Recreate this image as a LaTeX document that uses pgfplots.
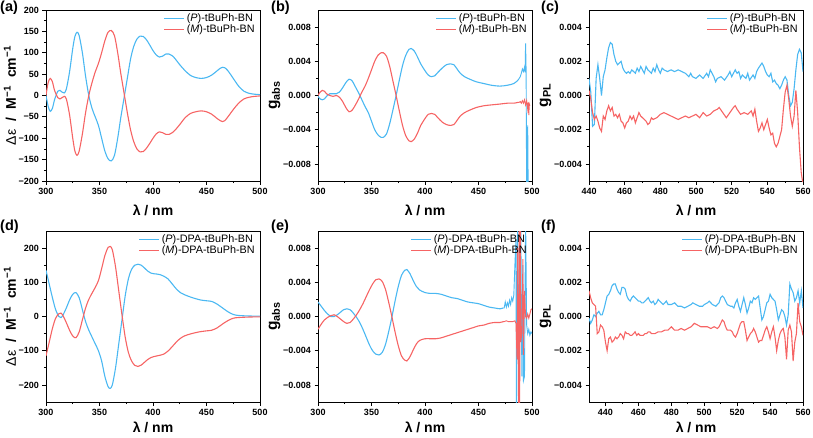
\documentclass[border=0pt]{standalone}
\usepackage{fontspec}
\setmainfont{Liberation Sans}
\usepackage{pgfplots}
\pgfplotsset{compat=1.18}
\definecolor{cblue}{RGB}{75,184,242}
\definecolor{cred}{RGB}{246,100,100}
\pgfplotsset{
  panel/.style={
    scale only axis, width=214pt, height=171pt,
    anchor=north west,
    tick align=outside, tick pos=left,
    major tick length=3.5pt, minor tick length=2pt,
    minor tick num=1,
    axis line style={line width=0.9pt},
    every tick/.style={black, line width=0.8pt},
    /pgf/number format/assume math mode=true,
    tick label style={font=\bfseries\fontsize{9}{10}\selectfont},
    label style={font=\bfseries\fontsize{14}{16}\selectfont},
    xlabel style={at={(axis description cs:0.5,-0.17)}, anchor=center},
    scaled ticks=false,
    xlabel={λ / nm},
    legend cell align=left,
    legend style={draw=none, fill=none, at={(0.99,0.995)}, anchor=north east,
      font=\fontsize{10.8}{12}\selectfont, row sep=-2.5pt, inner sep=1pt},
    legend image code/.code={\draw[#1, line width=1.1pt] (0pt,0pt) -- (20pt,0pt);},
    clip=true,
  },
  rowtwo/.style={xlabel style={at={(axis description cs:0.5,-0.148)}, anchor=center}},
  ylabA/.style={ylabel style={at={(axis description cs:-0.168,0.5)}, anchor=center}},
  ylabG/.style={ylabel style={at={(axis description cs:-0.203,0.5)}, anchor=center, font=\bfseries\fontsize{15.5}{16}\selectfont}},
  pb/.style={cblue, line width=1.1pt},
  pr/.style={cred, line width=1.1pt},
}
\newcommand{\plab}[1]{\bfseries\fontsize{14.5}{14.5}\selectfont #1}
\newcommand{\delab}{{\mdseries Δε}\hspace{0.3em} /\hspace{0.3em} M\textsuperscript{−1}\hspace{0.3em} cm\textsuperscript{−1}}
\begin{document}
\begin{tikzpicture}
\useasboundingbox (0pt,0pt) rectangle (813pt,-437pt);
\node[anchor=north west, inner sep=0pt] at (0pt,-1pt) {\plab{(a)}};
\node[anchor=north west, inner sep=0pt] at (271pt,-1pt) {\plab{(b)}};
\node[anchor=north west, inner sep=0pt] at (541pt,-1pt) {\plab{(c)}};
\node[anchor=north west, inner sep=0pt] at (0pt,-220pt) {\plab{(d)}};
\node[anchor=north west, inner sep=0pt] at (271pt,-220pt) {\plab{(e)}};
\node[anchor=north west, inner sep=0pt] at (541pt,-220pt) {\plab{(f)}};

% (a)
\begin{axis}[panel, ylabA, at={(46pt,-10pt)},
  xmin=300, xmax=500, xtick={300,350,...,500},
  ymin=-200, ymax=200, ytick={-200,-150,...,200},
  yticklabels={−200,−150,−100,−50,0,50,100,150,200},
  ylabel={\delab}]
\addplot[pb, smooth] coordinates {
(300,0)(302,-25)(304,-37)(306,-30)(308,-10)(311,10)(313,12)(315,8)(317,6)(319,15)
(322,55)(325,110)(327,138)(329,148)(331,140)(334,100)(337,45)(340,0)(343,-30)(346,-50)
(349,-70)(352,-100)(355,-130)(358,-148)(361,-153)(364,-140)(367,-100)(370,-50)(373,-5)
(376,40)(379,85)(382,115)(385,132)(388,139)(391,138)(394,130)(397,118)(400,105)(403,95)
(406,90)(409,92)(412,97)(415,97)(418,93)(421,85)(425,72)(430,58)(435,47)(440,42)(445,40)
(450,42)(455,48)(460,58)(463,64)(465,66)(467,65)(470,58)(475,40)(480,22)(485,10)(490,5)
(495,3)(500,2)};
\addlegendentry{(\textit{P})-tBuPh-BN}
\addplot[pr, smooth] coordinates {
(300,0)(302,30)(304,40)(306,32)(308,12)(311,-5)(313,-8)(315,-5)(317,-2)(319,-8)
(322,-45)(325,-100)(327,-130)(329,-140)(331,-130)(334,-90)(337,-40)(340,0)(343,30)(346,55)
(349,75)(352,100)(355,128)(358,148)(361,152)(364,140)(367,100)(370,50)(373,5)
(376,-40)(379,-80)(382,-108)(385,-125)(388,-132)(391,-131)(394,-123)(397,-112)(400,-100)
(403,-90)(406,-85)(409,-87)(412,-91)(415,-91)(418,-87)(421,-80)(425,-68)(430,-52)(435,-42)
(440,-38)(445,-36)(450,-38)(455,-44)(460,-54)(463,-59)(465,-61)(467,-59)(470,-50)(475,-33)
(480,-18)(485,-8)(490,-4)(495,-2)(500,-1)};
\addlegendentry{(\textit{M})-tBuPh-BN}
\end{axis}

% (b)
\begin{axis}[panel, ylabG, at={(318pt,-10pt)},
  xmin=300, xmax=500, xtick={300,350,...,500},
  ymin=-0.01, ymax=0.01, ytick={-0.008,-0.004,0,0.004,0.008},
  yticklabels={−0.008,−0.004,0.000,0.004,0.008},
  ylabel={g\textsubscript{abs}}]
\addplot[pb, smooth] coordinates {
(300,-0.0001)(302,-0.0004)(304,-0.0005)(306,-0.0004)(308,-0.0001)(311,0.0002)(314,0.0002)
(317,0.0002)(320,0.0004)(323,0.0009)(326,0.0015)(329,0.0019)(332,0.0017)(335,0.0010)
(338,0.0003)(341,-0.0005)(344,-0.0013)(347,-0.0020)(350,-0.0030)(353,-0.0040)(356,-0.0046)
(359,-0.0049)(361,-0.0049)(364,-0.0045)(367,-0.0033)(370,-0.0017)(373,0.0000)(376,0.0018)
(379,0.0035)(382,0.0047)(385,0.0054)(387,0.0055)(390,0.0052)(393,0.0045)(396,0.0037)
(400,0.0029)(403,0.0024)(406,0.0022)(409,0.0023)(412,0.0027)(416,0.0032)(420,0.0036)
(424,0.0037)(427,0.0036)(430,0.0031)(433,0.0026)(437,0.0022)(442,0.0019)(448,0.0016)
(455,0.0014)(462,0.0012)(470,0.0011)(477,0.0012)(483,0.0014)(487,0.0018)};
\addlegendentry{(\textit{P})-tBuPh-BN}
\addplot[pr, smooth] coordinates {
(300,0.0000)(302,0.0004)(304,0.0006)(306,0.0005)(308,0.0002)(311,0.0000)(314,-0.0001)
(317,0.0000)(320,-0.0002)(323,-0.0007)(326,-0.0014)(329,-0.0019)(332,-0.0017)(335,-0.0011)
(338,-0.0004)(341,0.0004)(344,0.0011)(347,0.0020)(350,0.0030)(353,0.0040)(356,0.0047)
(359,0.0050)(361,0.0050)(364,0.0046)(367,0.0034)(370,0.0017)(373,0.0000)(376,-0.0018)
(379,-0.0035)(382,-0.0047)(385,-0.0053)(387,-0.0054)(390,-0.0051)(393,-0.0044)(396,-0.0035)
(400,-0.0027)(403,-0.0022)(406,-0.0021)(409,-0.0022)(412,-0.0026)(416,-0.0031)(420,-0.0034)
(424,-0.0035)(427,-0.0034)(430,-0.0029)(433,-0.0024)(437,-0.0020)(442,-0.0017)(448,-0.0014)
(455,-0.0012)(462,-0.0011)(470,-0.0010)(477,-0.0009)(483,-0.0009)(487,-0.0008)};
\addlegendentry{(\textit{M})-tBuPh-BN}
\addplot[pb, forget plot, line width=0.9pt] coordinates {
(487,0.0018)(488,0.0020)(489,0.0022)(490,0.0026)(491,0.0031)(492,0.0028)(493,0.0033)
(493.5,0.0027)(494,0.0061)(494.5,0.0030)(495,-0.0120)(496,-0.0035)(496.5,-0.0120)(497,-0.0120)};
\addplot[pr, forget plot, line width=0.9pt] coordinates {
(487,-0.0008)(488,-0.0008)(489,-0.0007)(490,-0.0009)(491,-0.0006)(492,-0.0009)(493,-0.0005)
(494,-0.0011)(495,-0.0006)(496,-0.0016)(496.5,-0.0008)(497,-0.0023)(497.5,-0.0010)(498,-0.0012)};
\end{axis}

% (c)
\begin{axis}[panel, ylabG, at={(589pt,-10pt)},
  xmin=440, xmax=560, xtick={440,460,...,560},
  ymin=-0.005, ymax=0.005, ytick={-0.004,-0.002,0,0.002,0.004},
  yticklabels={−0.004,−0.002,0.000,0.002,0.004},
  ylabel={g\textsubscript{PL}}]
\addplot[pb] coordinates {
(440,0.0010)(441,0.0002)(442,-0.0018)(443,-0.0017)(444,0.0010)(445,0.0018)(446,0.0010)
(447,0.0000)(448,0.0011)(449,0.0015)(450,0.0022)(451,0.0028)(452,0.0031)(453,0.0030)
(454,0.0024)(455,0.0020)(456,0.0018)(457,0.0019)(458,0.0020)(459,0.0016)(460,0.0014)
(461,0.0013)(462,0.0014)(463,0.0013)(464,0.0015)(465,0.0014)(466,0.0013)(467,0.0016)
(468,0.0014)(469,0.0017)(470,0.0015)(471,0.0013)(472,0.0017)(473,0.0015)(474,0.0014)
(475,0.0013)(476,0.0016)(477,0.0014)(478,0.0018)(479,0.0015)(480,0.0013)(481,0.0016)
(482,0.0015)(484,0.0014)(486,0.0015)(488,0.0014)(490,0.0015)(492,0.0014)(494,0.0013)
(496,0.0011)(497,0.0013)(498,0.0011)(500,0.0010)(502,0.0012)(504,0.0010)(506,0.0013)
(507,0.0011)(508,0.0015)(510,0.0011)(511,0.0008)(512,0.0010)(514,0.0011)(516,0.0009)
(518,0.0012)(519,0.0014)(520,0.0011)(522,0.0015)(523,0.0013)(524,0.0014)(525,0.0010)
(526,0.0012)(528,0.0010)(529,0.0013)(530,0.0009)(532,0.0012)(533,0.0010)(534,0.0014)
(535,0.0016)(537,0.0019)(538,0.0017)(539,0.0014)(540,0.0012)(541,0.0011)(542,0.0013)
(543,0.0008)(544,0.0009)(545,0.0007)(546,0.0006)(547,0.0004)(548,0.0006)(549,0.0009)
(550,0.0011)(551,0.0009)(552,0.0000)(553,-0.0006)(554,-0.0004)(555,0.0004)(556,0.0015)
(557,0.0024)(558,0.0027)(559,0.0025)(560,0.0014)};
\addlegendentry{(\textit{P})-tBuPh-BN}
\addplot[pr] coordinates {
(440,0.0003)(441,-0.0002)(442,-0.0010)(443,-0.0014)(444,-0.0012)(445,-0.0015)(446,-0.0019)
(447,-0.0021)(448,-0.0012)(449,-0.0014)(450,-0.0009)(451,-0.0006)(452,-0.0009)(453,-0.0007)
(454,-0.0012)(455,-0.0011)(456,-0.0013)(457,-0.0011)(458,-0.0015)(459,-0.0016)(460,-0.0019)
(461,-0.0016)(462,-0.0015)(463,-0.0012)(464,-0.0014)(465,-0.0012)(466,-0.0016)(467,-0.0013)
(468,-0.0010)(469,-0.0012)(470,-0.0013)(472,-0.0015)(473,-0.0017)(474,-0.0016)(475,-0.0013)
(476,-0.0014)(478,-0.0013)(480,-0.0011)(482,-0.0010)(484,-0.0011)(486,-0.0012)(488,-0.0013)
(490,-0.0014)(492,-0.0013)(494,-0.0012)(496,-0.0013)(498,-0.0012)(500,-0.0011)(502,-0.0013)
(504,-0.0010)(506,-0.0012)(508,-0.0011)(510,-0.0009)(512,-0.0008)(513,-0.0007)(515,-0.0010)
(517,-0.0013)(519,-0.0010)(521,-0.0007)(522,-0.0006)(523,-0.0008)(525,-0.0011)(527,-0.0010)
(529,-0.0011)(531,-0.0009)(532,-0.0012)(533,-0.0008)(534,-0.0015)(535,-0.0021)(536,-0.0019)
(537,-0.0016)(538,-0.0020)(539,-0.0017)(540,-0.0014)(541,-0.0019)(542,-0.0023)(543,-0.0022)
(544,-0.0028)(545,-0.0030)(546,-0.0028)(547,-0.0024)(548,-0.0020)(549,-0.0008)(550,0.0002)
(551,0.0006)(552,-0.0002)(553,-0.0012)(554,-0.0018)(555,-0.0012)(556,0.0003)(557,-0.0010)
(558,-0.0030)(559,-0.0045)(560,-0.0052)};
\addlegendentry{(\textit{M})-tBuPh-BN}
\end{axis}

% (d)
\begin{axis}[panel, rowtwo, ylabA, at={(46pt,-231pt)},
  xmin=300, xmax=500, xtick={300,350,...,500},
  ymin=-250, ymax=250, ytick={-200,-100,0,100,200},
  yticklabels={−200,−100,0,100,200},
  ylabel={\delab}]
\addplot[pb, smooth] coordinates {
(300,135)(303,95)(306,55)(309,20)(312,0)(314,-3)(316,5)(319,25)(322,48)(325,65)(328,70)
(331,55)(334,20)(337,-15)(340,-40)(343,-60)(346,-80)(349,-100)(352,-130)(355,-175)(358,-205)
(360,-210)(362,-200)(365,-150)(368,-80)(371,-10)(374,60)(377,110)(380,138)(383,150)(386,153)
(389,150)(392,142)(395,133)(398,127)(401,125)(404,124)(407,122)(410,118)(414,110)(418,95)
(422,80)(426,69)(430,63)(435,57)(440,52)(445,48)(450,46)(455,44)(460,36)(465,25)(470,14)
(475,6)(480,3)(490,1.5)(500,1)};
\addlegendentry{(\textit{P})-DPA-tBuPh-BN}
\addplot[pr, smooth] coordinates {
(300,-115)(303,-75)(306,-35)(309,-5)(312,8)(314,10)(316,2)(319,-18)(322,-40)(325,-57)(328,-62)
(331,-45)(334,-10)(337,25)(340,50)(343,68)(346,85)(349,105)(352,140)(355,178)(358,202)
(360,205)(362,195)(365,145)(368,75)(371,5)(374,-60)(377,-105)(380,-130)(383,-143)(386,-146)
(389,-142)(392,-134)(395,-126)(398,-120)(401,-117)(404,-115)(407,-113)(410,-110)(414,-101)
(418,-88)(422,-74)(426,-63)(430,-56)(435,-51)(440,-47)(445,-44)(450,-42)(455,-40)(460,-33)
(465,-22)(470,-12)(475,-5)(480,-3)(490,-1.5)(500,-1)};
\addlegendentry{(\textit{M})-DPA-tBuPh-BN}
\end{axis}

% (e)
\begin{axis}[panel, rowtwo, ylabG, at={(318pt,-231pt)},
  xmin=300, xmax=500, xtick={300,350,...,500},
  ymin=-0.01, ymax=0.01, ytick={-0.008,-0.004,0,0.004,0.008},
  yticklabels={−0.008,−0.004,0.000,0.004,0.008},
  ylabel={g\textsubscript{abs}}]
\addplot[pb, smooth] coordinates {
(300,0.0017)(303,0.0012)(306,0.0007)(309,0.0003)(312,0.0000)(315,0.0000)(318,0.0002)
(321,0.0005)(324,0.0008)(327,0.0009)(330,0.0008)(333,0.0004)(336,-0.0001)(339,-0.0007)
(342,-0.0015)(345,-0.0024)(348,-0.0033)(351,-0.0040)(354,-0.0044)(357,-0.0045)(360,-0.0042)
(363,-0.0033)(366,-0.0018)(369,-0.0001)(372,0.0018)(375,0.0035)(378,0.0048)(381,0.0054)
(383,0.0055)(386,0.0050)(389,0.0042)(392,0.0035)(395,0.0031)(400,0.0028)(405,0.0027)
(410,0.0027)(415,0.0026)(420,0.0024)(425,0.0022)(430,0.0021)(435,0.0019)(440,0.0017)
(445,0.0016)(450,0.0015)(455,0.0013)(460,0.0011)(465,0.0010)(470,0.0009)(473,0.0010)};
\addlegendentry{(\textit{P})-DPA-tBuPh-BN}
\addplot[pr, smooth] coordinates {
(300,-0.0015)(303,-0.0009)(306,-0.0004)(309,-0.0001)(312,0.0001)(315,0.0002)(318,0.0000)
(321,-0.0003)(324,-0.0006)(327,-0.0008)(330,-0.0007)(333,-0.0003)(336,0.0002)(339,0.0008)
(342,0.0015)(345,0.0023)(348,0.0031)(351,0.0038)(354,0.0043)(357,0.0044)(360,0.0041)
(363,0.0032)(366,0.0017)(369,0.0000)(372,-0.0018)(375,-0.0034)(378,-0.0046)(381,-0.0051)
(383,-0.0052)(386,-0.0047)(389,-0.0039)(392,-0.0032)(395,-0.0028)(400,-0.0026)(405,-0.0026)
(410,-0.0026)(415,-0.0025)(420,-0.0023)(425,-0.0021)(430,-0.0019)(435,-0.0017)(440,-0.0015)
(445,-0.0013)(450,-0.0011)(455,-0.0010)(460,-0.0008)(465,-0.0007)(470,-0.0007)(473,-0.0006)};
\addlegendentry{(\textit{M})-DPA-tBuPh-BN}
\addplot[pb, forget plot, line width=0.9pt] coordinates {
(473,0.0010)(474,0.0010)(475,0.0017)(476,0.0011)(477,0.0016)(478,0.0012)(479,0.0019)
(480,0.0014)(481,0.0022)(482,0.0018)(483,0.0025)(484,0.0060)(485,0.0090)(485.5,-0.0120)
(486.5,0.0120)(487.5,-0.0060)(488.5,0.0090)(489.5,0.0120)(490.5,-0.0070)(491.5,0.0060)
(492,-0.0075)(493,-0.0070)(494,0.0120)(495,-0.0010)(496,-0.0020)(497,-0.0015)(498,-0.0022)
(499,-0.0018)(500,-0.0020)};
\addplot[pr, forget plot, line width=0.9pt] coordinates {
(473,-0.0006)(474,-0.0006)(476,-0.0005)(478,-0.0006)(480,-0.0006)(482,-0.0006)(484,-0.0005)
(485,-0.0008)(486,-0.0050)(486.5,0.0080)(487,-0.0040)(487.5,-0.0120)(488,0.0120)
(488.5,-0.0120)(489,0.0120)(489.5,-0.0030)(490.5,-0.0020)(491.5,0.0067)(492,-0.0045)
(493,0.0030)(494,0.0000)(495,-0.0002)(496,0.0003)(497,-0.0002)(498,0.0003)(499,0.0008)
(500,0.0009)};
\end{axis}

% (f)
\begin{axis}[panel, rowtwo, ylabG, at={(589pt,-231pt)},
  xmin=430, xmax=560, xtick={440,460,...,560},
  ymin=-0.005, ymax=0.005, ytick={-0.004,-0.002,0,0.002,0.004},
  yticklabels={−0.004,−0.002,0.000,0.002,0.004},
  ylabel={g\textsubscript{PL}}]
\addplot[pb] coordinates {
(430,-0.0001)(431,-0.0004)(432,-0.0002)(433,0.0001)(434,0.0000)(435,0.0002)(436,0.0003)
(437,0.0001)(438,0.0001)(439,0.0004)(440,0.0008)(441,0.0012)(442,0.0013)(443,0.0015)
(444,0.0018)(445,0.0019)(446,0.0019)(447,0.0016)(448,0.0014)(449,0.0013)(450,0.0017)
(451,0.0017)(452,0.0016)(453,0.0012)(454,0.0010)(455,0.0009)(456,0.0011)(457,0.0012)
(458,0.0011)(459,0.0010)(460,0.0009)(461,0.0009)(462,0.0008)(463,0.0008)(464,0.0009)
(465,0.0010)(466,0.0011)(467,0.0009)(468,0.0008)(469,0.0009)(470,0.0007)(471,0.0008)
(472,0.0010)(473,0.0009)(474,0.0008)(475,0.0007)(476,0.0008)(477,0.0009)(478,0.0007)
(480,0.0007)(482,0.0008)(484,0.0006)(486,0.0006)(488,0.0005)(490,0.0006)(492,0.0007)
(493,0.0008)(495,0.0007)(497,0.0006)(499,0.0006)(500,0.0007)(502,0.0008)(503,0.0009)
(505,0.0007)(507,0.0006)(509,0.0008)(510,0.0011)(511,0.0012)(512,0.0011)(514,0.0007)
(516,0.0006)(517,0.0006)(518,0.0005)(519,0.0008)(520,0.0010)(521,0.0006)(522,0.0003)
(523,0.0007)(524,0.0011)(525,0.0007)(526,0.0002)(527,0.0005)(528,0.0009)(529,0.0008)
(530,0.0011)(531,0.0010)(532,0.0011)(533,0.0012)(534,0.0005)(535,-0.0002)(536,0.0000)
(537,0.0004)(538,0.0008)(539,0.0009)(540,0.0013)(541,0.0011)(542,0.0010)(543,0.0009)
(544,0.0004)(545,-0.0002)(546,0.0001)(547,0.0004)(548,0.0003)(549,0.0000)(550,-0.0005)
(551,0.0001)(552,0.0019)(553,0.0016)(554,0.0014)(555,0.0009)(556,0.0011)(557,0.0015)
(558,0.0008)(559,0.0015)(560,0.0005)};
\addlegendentry{(\textit{P})-DPA-tBuPh-BN}
\addplot[pr] coordinates {
(430,0.0015)(431,0.0011)(432,0.0008)(433,0.0007)(434,0.0006)(435,-0.0010)(436,-0.0009)
(437,-0.0005)(438,-0.0006)(439,-0.0008)(440,-0.0015)(441,-0.0020)(442,-0.0013)(443,-0.0012)
(444,-0.0015)(445,-0.0014)(446,-0.0012)(447,-0.0013)(448,-0.0012)(449,-0.0010)(450,-0.0011)
(451,-0.0013)(452,-0.0009)(453,-0.0010)(454,-0.0010)(455,-0.0011)(456,-0.0011)(457,-0.0010)
(458,-0.0009)(459,-0.0011)(460,-0.0010)(461,-0.0011)(462,-0.0011)(463,-0.0011)(464,-0.0010)
(465,-0.0010)(466,-0.0009)(467,-0.0009)(468,-0.0010)(469,-0.0010)(470,-0.0010)(472,-0.0009)
(474,-0.0009)(476,-0.0008)(478,-0.0008)(480,-0.0006)(482,-0.0008)(484,-0.0008)(486,-0.0007)
(488,-0.0008)(490,-0.0007)(492,-0.0006)(494,-0.0004)(496,-0.0005)(498,-0.0006)(500,-0.0006)
(502,-0.0006)(504,-0.0007)(506,-0.0006)(508,-0.0007)(509,-0.0006)(510,-0.0004)(511,-0.0002)
(512,-0.0003)(513,-0.0006)(514,-0.0008)(516,-0.0008)(517,-0.0009)(518,-0.0011)(519,-0.0012)
(520,-0.0010)(521,-0.0007)(522,-0.0004)(523,-0.0003)(524,-0.0003)(525,-0.0008)(526,-0.0014)
(527,-0.0012)(528,-0.0010)(529,-0.0009)(530,-0.0007)(531,-0.0009)(532,-0.0012)(533,-0.0015)
(534,-0.0014)(535,-0.0014)(536,-0.0011)(537,-0.0008)(538,-0.0006)(539,-0.0009)(540,-0.0013)
(541,-0.0009)(542,-0.0006)(543,-0.0012)(544,-0.0020)(545,-0.0014)(546,-0.0010)(547,-0.0008)
(548,-0.0007)(549,-0.0012)(550,-0.0025)(551,-0.0008)(552,-0.0005)(553,-0.0009)(554,-0.0026)
(555,-0.0015)(556,-0.0010)(557,0.0008)(558,-0.0003)(559,-0.0006)(560,-0.0011)};
\addlegendentry{(\textit{M})-DPA-tBuPh-BN}
\end{axis}
\end{tikzpicture}
\end{document}
